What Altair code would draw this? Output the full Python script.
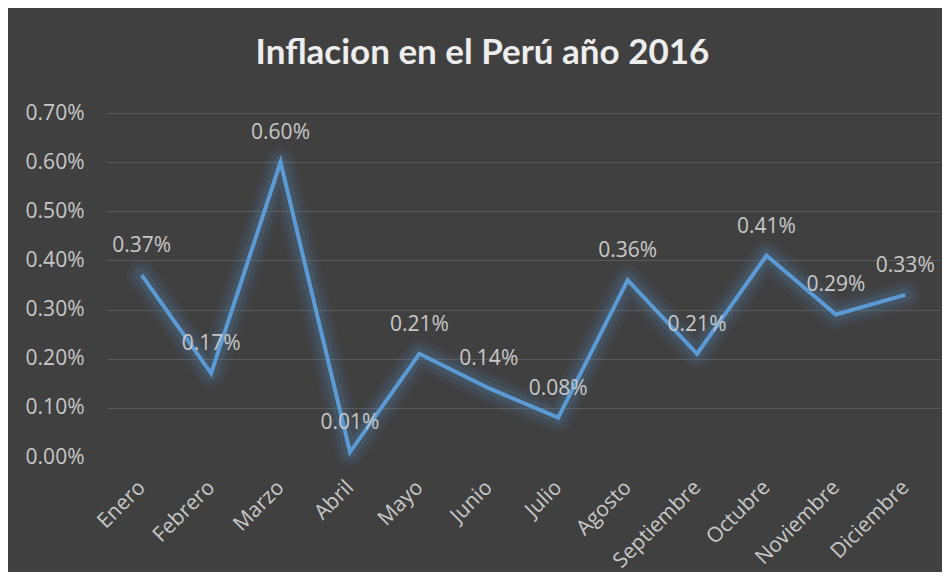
import altair as alt
import pandas as pd

meses = ["Enero", "Febrero", "Marzo", "Abril", "Mayo", "Junio", "Julio",
         "Agosto", "Septiembre", "Octubre", "Noviembre", "Diciembre"]
inflacion = [0.0037, 0.0017, 0.0060, 0.0001, 0.0021, 0.0014, 0.0008,
             0.0036, 0.0021, 0.0041, 0.0029, 0.0033]
y_ticks = [0.0, 0.001, 0.002, 0.003, 0.004, 0.005, 0.006, 0.007]

df = pd.DataFrame({"mes": meses, "valor": inflacion})

BG = "#404040"
LINE = "#5B9BD5"
TXT = "#C8C8C8"
FONT = "Open Sans"
FS = 21

x = alt.X("mes:N", sort=meses, title=None,
          scale=alt.Scale(type="point", padding=0.5),
          axis=alt.Axis(labelAngle=-45, labelAlign="right", labelBaseline="middle",
                        labelPadding=27, labelFontSize=FS, labelColor=TXT,
                        labelFont=FONT, domain=False, ticks=False, grid=False,
                        minExtent=108, maxExtent=108))
y = alt.Y("valor:Q", title=None,
          scale=alt.Scale(domain=[0, 0.007], nice=False),
          axis=alt.Axis(values=y_ticks, format=".2%", labelFontSize=FS,
                        labelColor=TXT, labelFont=FONT, labelPadding=23,
                        domain=False, ticks=False,
                        gridColor="#5A5A5A", gridWidth=1.2,
                        gridOpacity=alt.condition(alt.datum.value == 0, alt.value(0), alt.value(1)),
                        minExtent=82, maxExtent=82))

base = alt.Chart(df).encode(x=x, y=y)

glow1 = base.mark_line(color=LINE, strokeWidth=30, opacity=0.06, strokeJoin="round", strokeCap="round")
glow2 = base.mark_line(color=LINE, strokeWidth=21, opacity=0.08, strokeJoin="round", strokeCap="round")
glow3 = base.mark_line(color=LINE, strokeWidth=13, opacity=0.12, strokeJoin="round", strokeCap="round")
line = base.mark_line(color=LINE, strokeWidth=4)
labels = base.mark_text(dy=-29, fontSize=FS, color=TXT, font=FONT).encode(
    text=alt.Text("valor:Q", format=".2%"))

chart = (glow1 + glow2 + glow3 + line + labels).properties(
    width=833, height=344,
    background=BG,
    padding={"left": 17, "top": 28, "right": 2, "bottom": 0},
    title=alt.TitleParams("Inflacion en el Perú año 2016", fontSize=35,
                          font="Lato", fontWeight="bold", color="#EDEDED",
                          anchor="middle", frame="bounds", offset=31),
).configure_view(stroke=None)

chart.save("out.html", embed_options={"renderer": "svg", "actions": False})
